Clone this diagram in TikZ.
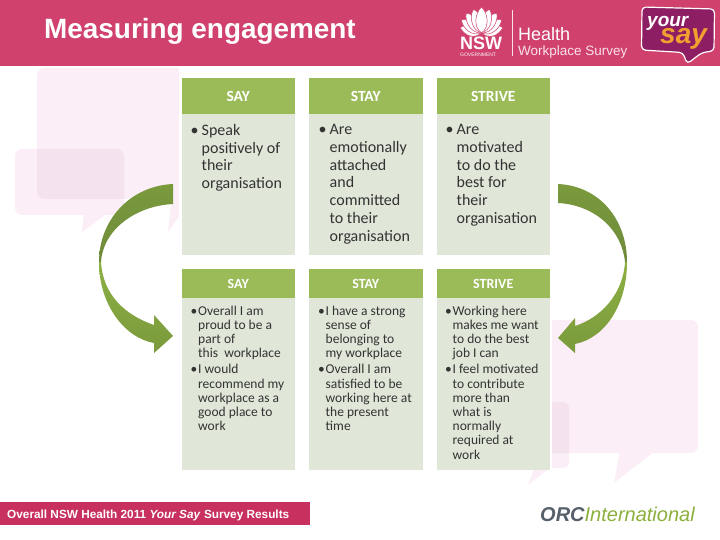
\documentclass[tikz,border=0pt]{standalone}
\usepackage{fontspec}
\setmainfont{Carlito}
\newfontfamily\arialf{Liberation Sans}
\definecolor{banner}{HTML}{D0416E}
\definecolor{footbar}{HTML}{C8305F}
\definecolor{headg}{HTML}{9BBB59}
\definecolor{bodyg}{HTML}{E0E6D8}
\definecolor{bub}{HTML}{FBEEF7}
\definecolor{bubd}{HTML}{F4E2EE}
\definecolor{arrA}{HTML}{7A9A3C}
\definecolor{arrB}{HTML}{6F8A3B}
\definecolor{arrC}{HTML}{8DB043}
\definecolor{txt}{HTML}{333333}
\definecolor{yspurple}{HTML}{8E1E63}
\definecolor{ysorange}{HTML}{F0A030}
\newcommand{\ind}{\hspace*{7.5pt}}
\newcommand{\bl}{\makebox[7.5pt][l]{•}}
\newcommand{\indb}{\hspace*{11pt}}
\newcommand{\blb}{\makebox[11pt][l]{•}}
\tikzset{
 x=1pt,y=-1pt,
 headbox/.style={fill=headg,inner sep=0pt,text=white,font=\fontsize{15.5}{17}\selectfont\bfseries},
 headboxlow/.style={headbox,font=\fontsize{14}{16}\selectfont\bfseries},
 toptext/.style={anchor=north west,inner sep=0pt,align=left,text=txt,font=\fontsize{16}{17.8}\selectfont},
 bottext/.style={anchor=north west,inner sep=0pt,align=left,text=txt,font=\fontsize{13.5}{14.2}\selectfont},
 logotxt/.style={inner sep=0pt,text=white,anchor=base west},
}
\begin{document}
\begin{tikzpicture}
\useasboundingbox (0,0) rectangle (720,540);
\fill[white] (0,0) rectangle (720,540);
% background bubbles
\fill[bub,rounded corners=7pt] (37,68) rectangle (190,199);
\fill[bub] (168,232) -- (172,195) -- (180,195) -- (180,215) -- cycle;
\fill[bub,rounded corners=7pt] (15,149) rectangle (124,215);
\fill[bub] (82,232) -- (84,213) -- (108,213) -- cycle;
\begin{scope}
\clip[rounded corners=7pt] (15,149) rectangle (124,215);
\fill[bubd,rounded corners=7pt] (37,68) rectangle (190,199);
\end{scope}
\fill[bub,rounded corners=7pt] (530,320) rectangle (698,453);
\fill[bub] (620,451) -- (614,483) -- (655,451) -- cycle;
\fill[bub,rounded corners=6pt] (500,402) rectangle (569,468);
\begin{scope}
\clip[rounded corners=6pt] (500,402) rectangle (569,468);
\fill[bubd,rounded corners=7pt] (530,320) rectangle (698,453);
\end{scope}
\fill[bub] (552,466) -- (528,485) -- (535,466) -- cycle;
\fill[white] (179,66) rectangle (552,470);
% banner
\fill[banner] (0,0) rectangle (720,66);
\node[inner sep=0pt,anchor=base west,text=white] (title) at (44,39) {\arialf\fontsize{27.9}{30}\selectfont\bfseries Measuring engagement};
% NSW logo
\foreach \a/\l in {-76/22,76/22,-57/24,57/24,-38/25,38/25,-19/25,19/25,0/26}{
 \fill[white,draw=banner,line width=0.5pt,rotate around={\a:(481.5,33)}] (481.5,33) .. controls (473,27) and (475,{33-\l+6}) .. (481.5,{33-\l}) .. controls (488,{33-\l+6}) and (490,27) .. (481.5,33);
}
\node[logotxt] (nsw) at (460,49.5) {\arialf\fontsize{18}{20}\selectfont\bfseries NSW};
\node[logotxt] (gov) at (460,56.5) {\arialf\fontsize{5}{6}\selectfont GOVERNMENT};
\coordinate (ruleA) at (512,10);
\coordinate (ruleB) at (512,56);
\draw[white!85!banner,line width=0.7pt] (ruleA) -- (ruleB);
\node[logotxt] (health) at (518,41) {\arialf\fontsize{18}{19}\selectfont Health};
\node[logotxt,text=white!85!banner] (wps) at (518,56) {\arialf\fontsize{13.5}{14}\selectfont Workplace Survey};
% your say logo
\fill[yspurple,draw=white,line width=1.2pt,rounded corners=4pt] (642,7) -- (641.5,50) -- (683,52.5) -- (687,64) -- (702,52.5) -- (714,51) -- (714.5,9) -- cycle;
\node[logotxt] (your) at (647,27) {\arialf\fontsize{19}{20}\selectfont\bfseries\itshape your};
\node[logotxt,text=ysorange] (say) at (660,44) {\arialf\fontsize{28}{29}\selectfont\bfseries\itshape say};
% arrows left
\shade[top color=arrA,bottom color=arrB] (173,184) .. controls (130,186) and (99,220) .. (99,262) -- (101,262) .. controls (103,230) and (135,206) .. (173,204) -- cycle;
\shade[top color=arrC,bottom color=arrA] (99,262) .. controls (99,305) and (125,338) .. (154,343) -- (154,353) -- (173,336) -- (154,315) -- (154,325) .. controls (125,315) and (103,295) .. (101,262) -- cycle;
% arrows right
\shade[top color=arrA,bottom color=arrB] (558,184) .. controls (600,186) and (627,220) .. (627,262) -- (625,262) .. controls (622,230) and (595,205) .. (558,203) -- cycle;
\shade[top color=arrC,bottom color=arrA] (627,262) .. controls (627,305) and (605,338) .. (575,344) -- (575,353) -- (558,338) -- (575,318) -- (575,326) .. controls (600,318) and (623,295) .. (625,262) -- cycle;
% top row
\fill[bodyg] (181.5,114) rectangle (295,255);
\fill[bodyg] (309,114) rectangle (422.5,255);
\fill[bodyg] (436.5,114) rectangle (550,255);
\node[headbox,minimum width=113.5pt,minimum height=36pt] (h1) at (238.25,96) {SAY};
\node[headbox,minimum width=113.5pt,minimum height=36pt] (h2) at (365.75,96) {STAY};
\node[headbox,minimum width=113.5pt,minimum height=36pt] (h3) at (493.25,96) {STRIVE};
\node[toptext] (t1) at (190.5,124) {\blb Speak\\\indb positively of\\\indb their\\\indb organisation};
\node[toptext] (t2) at (318.5,124) {\blb Are\\\indb emotionally\\\indb attached\\\indb and\\\indb committed\\\indb to their\\\indb organisation};
\node[toptext] (t3) at (445.5,124) {\blb Are\\\indb motivated\\\indb to do the\\\indb best for\\\indb their\\\indb organisation};
% bottom row
\fill[bodyg] (181.5,298) rectangle (295,470);
\fill[bodyg] (309,298) rectangle (422.5,470);
\fill[bodyg] (436.5,298) rectangle (550,470);
\node[headboxlow,minimum width=113.5pt,minimum height=29pt] (h4) at (238.25,283.5) {SAY};
\node[headboxlow,minimum width=113.5pt,minimum height=29pt] (h5) at (365.75,283.5) {STAY};
\node[headboxlow,minimum width=113.5pt,minimum height=29pt] (h6) at (493.25,283.5) {STRIVE};
\node[bottext] (b1) at (190.5,305.5) {\bl Overall I am\\\ind proud to be a\\\ind part of\\\ind this\ \ workplace\\[2pt]\bl I would\\\ind recommend my\\\ind workplace as a\\\ind good place to\\\ind work};
\node[bottext] (b2) at (318,305.5) {\bl I have a strong\\\ind sense of\\\ind belonging to\\\ind my workplace\\[2pt]\bl Overall I am\\\ind satisfied to be\\\ind working here at\\\ind the present\\\ind time};
\node[bottext] (b3) at (445,305.5) {\bl Working here\\\ind makes me want\\\ind to do the best\\\ind job I can\\[2pt]\bl I feel motivated\\\ind to contribute\\\ind more than\\\ind what is\\\ind normally\\\ind required at\\\ind work};
% footer
\fill[footbar] (0,502) rectangle (310,525);
\node[inner sep=0pt,anchor=base west,text=white] (foot) at (7,518) {\arialf\fontsize{11.8}{13}\selectfont\bfseries Overall NSW Health 2011 \textit{Your Say} Survey Results};
\node[inner sep=0pt,anchor=base west] (orc) at (540,521) {\arialf\fontsize{20}{22}\selectfont\itshape\textcolor[HTML]{56606A}{\bfseries ORC}\textcolor[HTML]{8CB03C}{International}};
\end{tikzpicture}
\end{document}
